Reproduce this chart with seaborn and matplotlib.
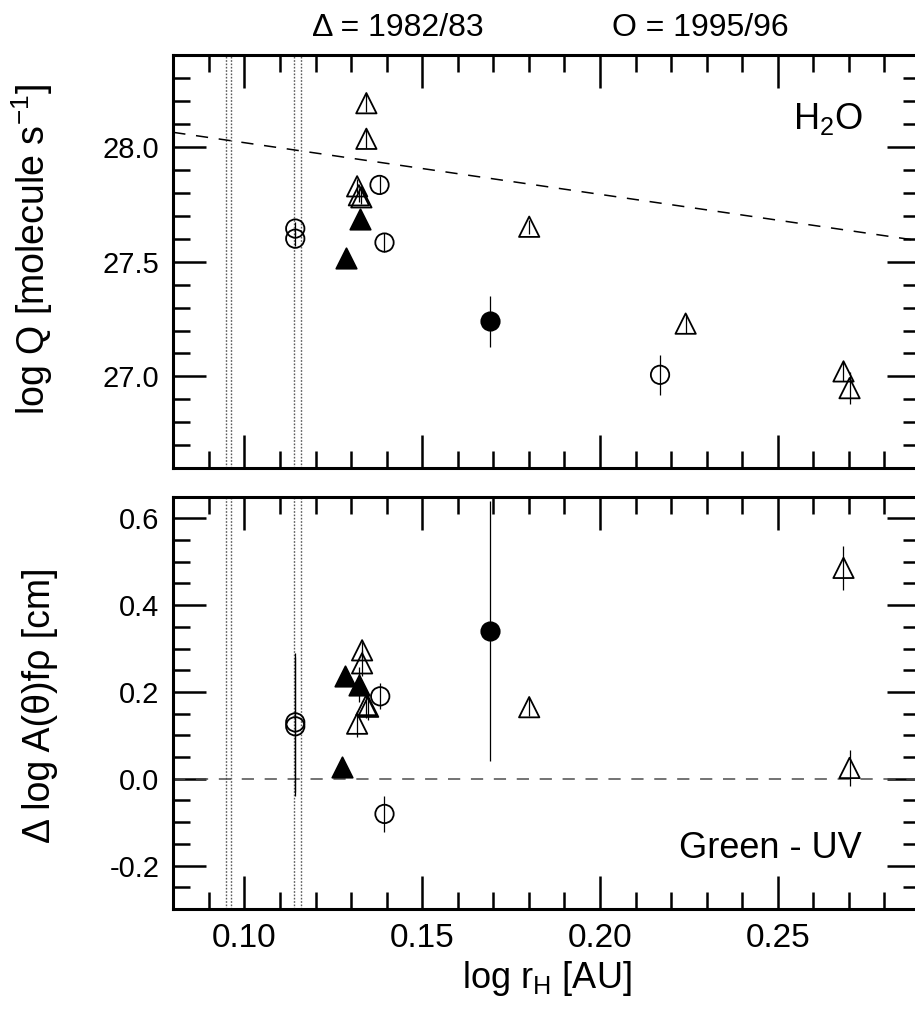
import numpy as np
import pandas as pd
import seaborn as sns
import matplotlib.pyplot as plt
from matplotlib.ticker import MultipleLocator

# top panel: log Q(H2O)
q_x = [0.1343, 0.1343, 0.1317, 0.1322, 0.1329, 0.1801, 0.2241, 0.2685, 0.2702,
       0.1326, 0.1286,
       0.1143, 0.1143, 0.1380, 0.1394, 0.2169,
       0.1691]
q_y = [28.19, 28.035, 27.828, 27.789, 27.780, 27.652, 27.230, 27.022, 26.949,
       27.686, 27.517,
       27.644, 27.600, 27.834, 27.583, 27.007,
       27.240]
q_err = [0.04, 0.04, 0.03, 0.03, 0.03, 0.03, 0.04, 0.04, 0.07,
         0.04, 0.03,
         0.03, 0.03, 0.04, 0.04, 0.087,
         0.11]
q_epoch = ["1982/83"] * 11 + ["1995/96"] * 6
q_filled = [False] * 9 + [True] * 2 + [False] * 5 + [True]

# bottom panel: green - UV colour of the dust
c_x = [0.1331, 0.1331, 0.1343, 0.1348, 0.1317, 0.1801, 0.2685, 0.2702,
       0.1284, 0.1323, 0.1274,
       0.1143, 0.1143, 0.1382, 0.1394,
       0.1691]
c_y = [0.296, 0.266, 0.170, 0.166, 0.127, 0.165, 0.486, 0.025,
       0.236, 0.217, 0.028,
       0.130, 0.121, 0.190, -0.081,
       0.340]
c_err = [0.02, 0.03, 0.03, 0.03, 0.03, 0.02, 0.05, 0.041,
         0.02, 0.04, 0.01,
         0.16, 0.16, 0.03, 0.041,
         0.30]
c_epoch = ["1982/83"] * 11 + ["1995/96"] * 5
c_filled = [False] * 8 + [True] * 3 + [False] * 4 + [True]

# marked epochs (dotted verticals)
vlines_x = [0.0947, 0.0961, 0.1140, 0.1160]
# dashed reference line in the H2O panel
ref_x = [0.08, 0.29]
ref_y = [28.063, 28.063 - 2.25 * 0.21]

q = pd.DataFrame(dict(x=q_x, y=q_y, err=q_err, epoch=q_epoch, filled=q_filled))
c = pd.DataFrame(dict(x=c_x, y=c_y, err=c_err, epoch=c_epoch, filled=c_filled))

sns.set_style("white")
plt.rcParams["font.family"] = ["Liberation Sans", "DejaVu Sans"]
plt.rcParams["mathtext.default"] = "regular"
for k in ["text.color", "axes.labelcolor", "xtick.color", "ytick.color",
          "axes.edgecolor"]:
    plt.rcParams[k] = "black"

fig = plt.figure(figsize=(9.15, 10.18), dpi=100)
ax1 = fig.add_axes([0.1894, 0.540, 0.816, 0.406])
ax2 = fig.add_axes([0.1894, 0.1071, 0.816, 0.405])

markers = {"1982/83": "^", "1995/96": "o"}
sizes = {"1982/83": 215, "1995/96": 175}


def draw(ax, df):
    for v in vlines_x:
        ax.axvline(v, color="0.35", ls=(0, (1.2, 1.2)), lw=1.0, zorder=1)
    ax.errorbar(df.x, df.y, yerr=df.err, fmt="none", ecolor="black",
                elinewidth=0.9, capsize=0, zorder=2)
    for (ep, fl), sub in df.groupby(["epoch", "filled"]):
        sns.scatterplot(data=sub, x="x", y="y", ax=ax, marker=markers[ep],
                        s=sizes[ep], facecolor="black" if fl else "none",
                        edgecolor="black", linewidth=1.3, legend=False, zorder=3)
    ax.set_xlim(0.08, 0.29)
    ax.xaxis.set_major_locator(MultipleLocator(0.05))
    ax.xaxis.set_minor_locator(MultipleLocator(0.01))
    ax.tick_params(which="both", direction="in", top=True, right=True,
                   bottom=True, left=True, width=1.8, color="black")
    ax.tick_params(which="major", length=24)
    ax.tick_params(which="minor", length=12.5)
    for s in ax.spines.values():
        s.set_linewidth(2.2)
        s.set_color("black")


draw(ax1, q)
ax1.plot(ref_x, ref_y, color="black", lw=1.1, dashes=(8, 7), zorder=1)
ax1.set_ylim(26.6, 28.4)
ax1.yaxis.set_major_locator(MultipleLocator(0.5))
ax1.yaxis.set_minor_locator(MultipleLocator(0.1))
ax1.yaxis.set_major_formatter(lambda v, p: f"{v:.1f}")
ax1.tick_params(axis="x", labelbottom=False)
ax1.tick_params(axis="y", labelsize=21, pad=10)
ax1.set_xlabel("")
ax1.set_ylabel(r"log Q [molecule s$^{-1}$]", fontsize=27)
ax1.yaxis.set_label_coords(-0.158, 0.528)
ax1.text(0.9237, 0.821, r"H$_2$O", transform=ax1.transAxes, ha="right",
         va="baseline", fontsize=26)

draw(ax2, c)
ax2.axhline(0.0, color="0.3", lw=1.1, dashes=(8, 7), zorder=1)
ax2.set_ylim(-0.3, 0.65)
ax2.yaxis.set_major_locator(MultipleLocator(0.2))
ax2.yaxis.set_minor_locator(MultipleLocator(0.05))
ax2.yaxis.set_major_formatter(lambda v, p: f"{v:.1f}")
ax2.xaxis.set_major_formatter(lambda v, p: f"{v:.2f}")
ax2.tick_params(axis="x", labelsize=24, pad=10)
ax2.tick_params(axis="y", labelsize=21, pad=10)
ax2.set_xlabel(r"log r$_H$ [AU]", fontsize=26, labelpad=4)
ax2.set_ylabel("Δ log A(θ)fρ [cm]", fontsize=27)
ax2.yaxis.set_label_coords(-0.155, 0.495)
ax2.text(0.9223, 0.1237, "Green - UV", transform=ax2.transAxes, ha="right",
         va="baseline", fontsize=26)

fig.text(0.435, 0.9725, "Δ = 1982/83", ha="center", va="center", fontsize=23)
fig.text(0.765, 0.9725, "O = 1995/96", ha="center", va="center", fontsize=23)

fig.savefig("out.png", dpi=100)
